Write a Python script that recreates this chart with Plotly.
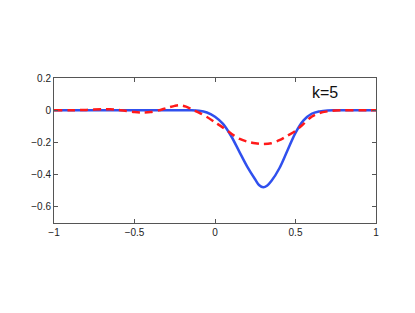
import plotly.graph_objects as go

# Data
x_blue = [-1.0, -0.8, -0.6, -0.4, -0.2, -0.15, -0.1, -0.05, 0.0, 0.05, 0.1, 0.15, 0.2, 0.25,
          0.275, 0.3, 0.325, 0.35, 0.4, 0.45, 0.5, 0.55, 0.6, 0.65, 0.7, 0.75, 0.8, 0.9, 1.0]
y_blue = [0, 0, 0, 0, 0, 0, -0.003, -0.014, -0.04, -0.085, -0.16, -0.255, -0.35, -0.43,
          -0.466, -0.478, -0.467, -0.44, -0.36, -0.25, -0.14, -0.063, -0.022, -0.007, -0.001,
          0, 0, 0, 0]

x_red = [-1.0, -0.9, -0.8, -0.7, -0.65, -0.6, -0.55, -0.5, -0.45, -0.4, -0.35, -0.3, -0.25,
         -0.22, -0.18, -0.14, -0.1, -0.05, 0.0, 0.05, 0.1, 0.15, 0.2, 0.25, 0.3, 0.35, 0.4,
         0.45, 0.5, 0.55, 0.6, 0.65, 0.7, 0.75, 0.8, 0.9, 1.0]
y_red = [0, 0, 0.002, 0.006, 0.006, 0.002, -0.005, -0.011, -0.014, -0.011, -0.001, 0.014, 0.027,
         0.031, 0.022, 0.003, -0.015, -0.042, -0.075, -0.108, -0.145, -0.177, -0.195, -0.205,
         -0.21, -0.205, -0.186, -0.158, -0.128, -0.085, -0.04, -0.017, -0.007, -0.002, 0, 0, 0]

x_ticks = [-1, -0.5, 0, 0.5, 1]
x_labels = ["\u22121", "\u22120.5", "0", "0.5", "1"]
y_ticks = [0.2, 0, -0.2, -0.4, -0.6]
y_labels = ["0.2", "0", "\u22120.2", "\u22120.4", "\u22120.6"]
label_text = "k=5"

fig = go.Figure()
fig.add_trace(go.Scatter(x=x_blue, y=y_blue, mode="lines",
                         line=dict(color="#3050ee", width=2.5, shape="spline", smoothing=1.0),
                         showlegend=False))
fig.add_trace(go.Scatter(x=x_red, y=y_red, mode="lines",
                         line=dict(color="#ff1a1a", width=2.5, dash="8px,5px", shape="spline",
                                   smoothing=0.8),
                         showlegend=False))

fig.add_annotation(x=0.683, y=0.108, text=label_text, showarrow=False,
                   font=dict(family="Liberation Sans, Arial", size=16, color="#111"))

axis_common = dict(showline=True, linecolor="#555", linewidth=1, mirror="ticks",
                   ticks="inside", ticklen=4, tickcolor="#555", showgrid=False,
                   zeroline=False, tickfont=dict(family="Liberation Sans, Arial", size=10,
                                                 color="#222"))

fig.update_xaxes(range=[-1, 1], tickvals=x_ticks, ticktext=x_labels, **axis_common)
fig.update_yaxes(range=[-0.7, 0.2], tickvals=y_ticks, ticktext=y_labels, **axis_common)

fig.update_layout(width=407, height=305, margin=dict(l=46, r=39, t=70, b=90),
                  paper_bgcolor="white", plot_bgcolor="white")

fig.write_html("out.html")
